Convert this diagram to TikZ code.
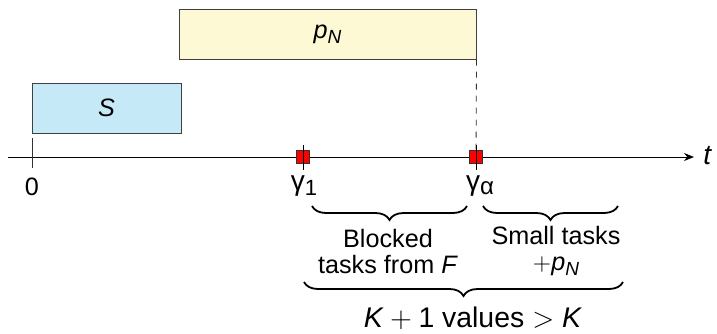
\documentclass[tikz,border=0pt]{standalone}
\usepackage{fontspec}
\setmainfont{Liberation Sans}
\usetikzlibrary{decorations.pathreplacing,arrows.meta}
\definecolor{boxblue}{RGB}{198,233,248}
\definecolor{boxyellow}{RGB}{253,249,213}
\newcommand{\subsz}{\fontsize{9.5}{11}\selectfont}
\begin{document}
\begin{tikzpicture}[x=0.5pt,y=-0.5pt,
  every node/.style={font=\fontsize{12.6}{13}\selectfont},
  taskbox/.style={draw=black!75, line width=0.5pt, minimum height=25pt, inner sep=0pt},
  mark sq/.style={draw=black!80, fill=red, line width=0.4pt, minimum size=6.5pt, inner sep=0pt},
  bracedec/.style={decorate, decoration={brace, mirror, amplitude=7pt, raise=0pt}, line width=0.9pt},
  lbl/.style={align=center, inner sep=0pt}]
\useasboundingbox (0,0) rectangle (717,333);
% axis
\coordinate (axs) at (8,157);
\coordinate (axe) at (694,157);
\draw[-{Stealth[length=5pt,width=4pt]}, line width=0.5pt] (axs) -- (axe);
\node[anchor=west, inner sep=0pt, font=\fontsize{14}{15}\selectfont] (t) at (703,156) {\textit{t}};
% boxes
\node[taskbox, fill=boxblue, minimum width=74.5pt] (S) at (106.5,108) {\textit{S}};
\node[taskbox, fill=boxyellow, minimum width=148.5pt] (pN) at (327.5,34) {\textit{p}\raisebox{-0.4ex}{\subsz\textit{N}}};
% tick at 0
\coordinate (z1) at (32,138);
\coordinate (z2) at (32,168);
\draw[line width=0.5pt, black!80] (z1) -- (z2);
\node[lbl] (zero) at (32,187) {0};
% dashed line
\coordinate (dtop) at (pN.south east);
\coordinate (dbot) at (476,157);
\draw[dashed, line width=0.4pt, black!80] (dtop) -- (dbot);
% gamma marks
\coordinate (g1t) at (303,145);
\coordinate (g1b) at (303,170);
\coordinate (gat) at (476,145);
\coordinate (gab) at (476,170);
\node[mark sq] (m1) at (303,157) {};
\node[mark sq] (ma) at (476,157) {};
\draw[line width=0.4pt] (g1t) -- (g1b);
\draw[line width=0.4pt] (gat) -- (gab);
\node[lbl] (gam1) at (304,186) {\fontsize{14}{15}\selectfont γ\raisebox{-0.35ex}{\fontsize{11}{12}\selectfont 1}};
\node[lbl] (gama) at (480,186) {\fontsize{14}{15}\selectfont γ\raisebox{-0.3ex}{\fontsize{12}{12}\selectfont α}};
% braces
\coordinate (b1s) at (312,206);
\coordinate (b1e) at (467,206);
\coordinate (b2s) at (483,206);
\coordinate (b2e) at (618,206);
\coordinate (b3s) at (304,282);
\coordinate (b3e) at (623,282);
\draw[bracedec] (b1s) -- (b1e);
\draw[bracedec] (b2s) -- (b2e);
\draw[bracedec] (b3s) -- (b3e);
\node[lbl] (blk) at (388,251) {Blocked\\tasks from \textit{F}};
\node[lbl] (sml) at (556,251) {Small tasks\\$+$\textit{p}\raisebox{-0.4ex}{\subsz\textit{N}}};
\node[lbl, font=\fontsize{14.2}{15}\selectfont] (kv) at (473,318) {$\mbox{\textit{K}} + \mbox{1 values} > \mbox{\textit{K}}$};
\end{tikzpicture}
\end{document}
